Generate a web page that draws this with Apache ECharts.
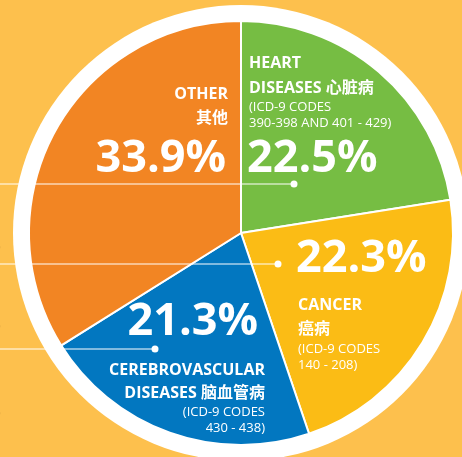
<!DOCTYPE html>
<html><head><meta charset="utf-8">
<script src="https://cdn.jsdelivr.net/npm/echarts@6/dist/echarts.min.js"></script>
<style>html,body{margin:0;padding:0;background:#FDC04D}#c{width:462px;height:457px}</style>
</head><body><div id="c"></div>
<script>
const categories = ['HEART DISEASES', 'CANCER', 'CEREBROVASCULAR DISEASES', 'OTHER'];
const values = [22.5, 22.3, 21.3, 33.9];
const pctLabels = ['22.5%', '22.3%', '21.3%', '33.9%'];
const enNames = [['HEART', 'DISEASES'], ['CANCER'], ['CEREBROVASCULAR', 'DISEASES'], ['OTHER']];
const zhNames = ['心脏病', '癌病', '脑血管病', '其他'];
const codeLines = [['(ICD-9 CODES', '390-398 AND 401 - 429)'], ['(ICD-9 CODES', '140 - 208)'], ['(ICD-9 CODES', '430 - 438)'], []];

const colors = ['#76BD43', '#FBBC15', '#0277C0', '#F28523'];
const F = '"Open Sans","Noto Sans CJK SC",sans-serif';
const chart = echarts.init(document.getElementById('c'));

function txt(x, y, text, size, weight, align) {
  return { type: 'text', x: x, y: y, z: 50, silent: true,
    style: { text: text, fill: '#fff', font: weight + ' ' + size + 'px ' + F, align: align, verticalAlign: 'middle' } };
}
const B = 16, S = 13, P = 45;
const g = [];
// HEART (left aligned at 249)
g.push(txt(249, 63, enNames[0][0], B, 'bold', 'left'));
g.push(txt(249, 88, enNames[0][1] + ' ' + zhNames[0], B, 'bold', 'left'));
g.push(txt(249, 107, codeLines[0][0], S, 'normal', 'left'));
g.push(txt(249, 123, codeLines[0][1], S, 'normal', 'left'));
g.push(txt(247, 159, pctLabels[0], P, 'bold', 'left'));
// OTHER (right aligned)
g.push(txt(228, 94, enNames[3][0], B, 'bold', 'right'));
g.push(txt(228, 118, zhNames[3], B, 'bold', 'right'));
g.push(txt(226, 159, pctLabels[3], P, 'bold', 'right'));
// CANCER
g.push(txt(296, 259, pctLabels[1], P, 'bold', 'left'));
g.push(txt(298, 305, enNames[1][0], B, 'bold', 'left'));
g.push(txt(298, 329, zhNames[1], B, 'bold', 'left'));
g.push(txt(298, 349, codeLines[1][0], S, 'normal', 'left'));
g.push(txt(298, 365, codeLines[1][1], S, 'normal', 'left'));
// CEREBRO (right aligned)
g.push(txt(258, 322, pctLabels[2], P, 'bold', 'right'));
g.push(txt(265, 370, enNames[2][0], B, 'bold', 'right'));
g.push(txt(265, 393, enNames[2][1] + ' ' + zhNames[2], B, 'bold', 'right'));
g.push(txt(265, 412, codeLines[2][0], S, 'normal', 'right'));
g.push(txt(265, 428, codeLines[2][1], S, 'normal', 'right'));
// leader lines and dots
[[294, 184], [278, 264], [155, 349]].forEach(function (p) {
  g.push({ type: 'line', z: 40, silent: true, shape: { x1: 0, y1: p[1], x2: p[0], y2: p[1] }, style: { stroke: '#fff', lineWidth: 1 } });
  g.push({ type: 'circle', z: 41, silent: true, shape: { cx: p[0], cy: p[1], r: 3.5 }, style: { fill: '#fff' } });
});
// cut-off parentheses at left edge
[247, 326, 413].forEach(function (y) {
  g.push({ type: 'text', x: -4, y: y, z: 30, silent: true, style: { text: ')', fill: '#4a3520', font: 'normal 16px ' + F, verticalAlign: 'middle' } });
});

chart.setOption({
  backgroundColor: '#FDC04D',
  animation: false,
  series: [
    { type: 'pie', silent: true, center: [241, 233], radius: [0, 228], z: 1,
      label: { show: false }, labelLine: { show: false },
      data: [{ value: 1, itemStyle: { color: '#ffffff' } }] },
    { type: 'pie', silent: true, center: [241, 233], radius: [0, 212], startAngle: 90, clockwise: true, z: 2,
      label: { show: false }, labelLine: { show: false },
      itemStyle: { borderColor: '#ffffff', borderWidth: 2 },
      data: categories.map(function (c, i) { return { name: c, value: values[i], itemStyle: { color: colors[i] } }; }) }
  ],
  graphic: g
});
</script></body></html>
